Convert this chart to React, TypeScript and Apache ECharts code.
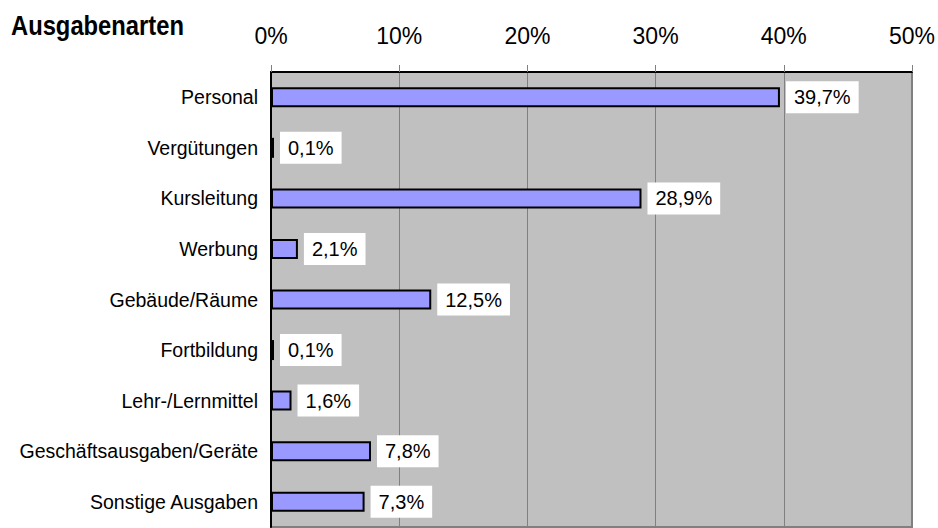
import React, { useEffect, useRef } from "react";
import * as echarts from "echarts";

const categories = [
  "Personal",
  "Vergütungen",
  "Kursleitung",
  "Werbung",
  "Gebäude/Räume",
  "Fortbildung",
  "Lehr-/Lernmittel",
  "Geschäftsausgaben/Geräte",
  "Sonstige Ausgaben",
];
const values = [39.7, 0.1, 28.9, 2.1, 12.5, 0.1, 1.6, 7.8, 7.3];
const axisMin = 0;
const axisMax = 50;
const axisInterval = 10;
const titleText = "Ausgabenarten";

export default function App() {
  const ref = useRef<HTMLDivElement>(null);
  useEffect(() => {
    if (!ref.current) return;
    const chart = echarts.init(ref.current, undefined, { renderer: "svg" });
    chart.setOption({
      animation: false,
      backgroundColor: "#ffffff",
      textStyle: { fontFamily: "Liberation Sans, Arial, sans-serif" },
      graphic: [
        {
          type: "text",
          x: 11,
          y: 12,
          scaleX: 0.88,
          style: {
            text: titleText,
            fontFamily: "Liberation Sans, Arial, sans-serif",
            fontWeight: "bold",
            fontSize: 27,
            fill: "#000",
          },
        },
      ],
      grid: {
        left: 271,
        right: 25,
        top: 72,
        bottom: 1,
        show: true,
        backgroundColor: "#c0c0c0",
        borderColor: "#808080",
        borderWidth: 2,
      },
      xAxis: {
        type: "value",
        position: "top",
        min: axisMin,
        max: axisMax,
        interval: axisInterval,
        axisLine: { show: true, lineStyle: { color: "#000", width: 2 } },
        axisTick: { show: true, length: 7, inside: false, lineStyle: { color: "#808080", width: 1 } },
        splitLine: { show: true, lineStyle: { color: "#808080", width: 1 } },
        axisLabel: {
          fontSize: 23,
          color: "#000",
          margin: 25,
          formatter: (v: number) => `${v}%`,
        },
      },
      yAxis: {
        type: "category",
        data: categories,
        inverse: true,
        axisLine: { show: true, lineStyle: { color: "#000", width: 2 } },
        axisTick: { show: false },
        axisLabel: { fontSize: 19.5, color: "#000", margin: 13 },
      },
      series: [
        {
          type: "bar",
          data: values,
          barWidth: 20,
          barMinHeight: 3,
          itemStyle: { color: "#9999ff", borderColor: "#000", borderWidth: 2 },
          label: {
            show: true,
            position: "right",
            distance: 6,
            backgroundColor: "#ffffff",
            padding: [6, 8, 6, 8],
            color: "#000",
            fontSize: 20,
            formatter: (p: any) => `${p.value.toFixed(1).replace(".", ",")}%`,
          },
        },
      ],
    });
    return () => chart.dispose();
  }, []);
  return (
    <div
      ref={ref}
      style={{ position: "fixed", left: 0, top: 0, width: 938, height: 528 }}
    />
  );
}
